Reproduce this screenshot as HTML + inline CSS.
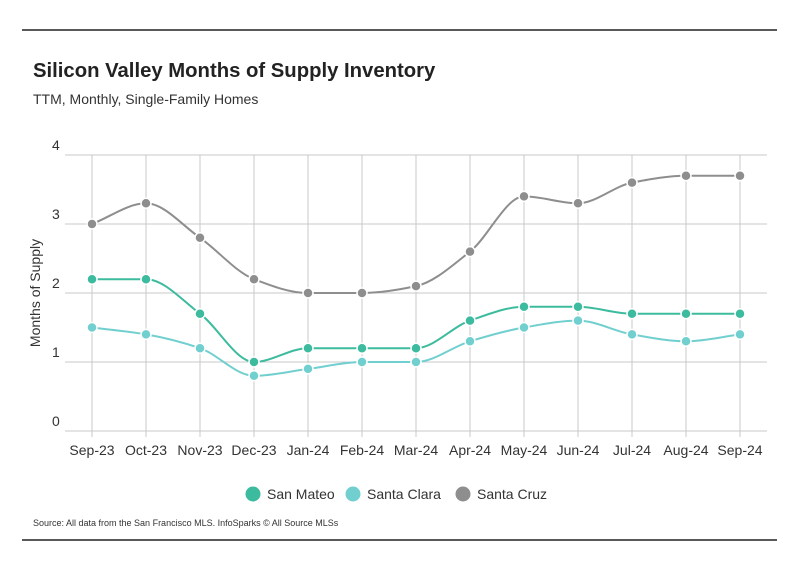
<!DOCTYPE html>
<html><head><meta charset="utf-8">
<style>
body{margin:0;background:#fff;font-family:"Liberation Sans",sans-serif;}
svg{display:block}
</style></head>
<body>
<svg id="chart" width="799" height="575">
<line x1="22" y1="30" x2="777" y2="30" stroke="#222" stroke-width="1.5"/>
<text x="33" y="77" font-size="20.3" font-weight="bold" fill="#222">Silicon Valley Months of Supply Inventory</text>
<text x="33" y="104" font-size="14" fill="#333">TTM, Monthly, Single-Family Homes</text>
<text transform="translate(40,293) rotate(-90)" text-anchor="middle" font-size="14" fill="#333">Months of Supply</text>
<g id="grid"></g>
<g id="series"></g>
<g id="legend"></g>
<text x="33" y="526" font-size="9" fill="#333">Source:  All data from the San Francisco MLS. InfoSparks © All Source MLSs</text>
<line x1="22" y1="540" x2="777" y2="540" stroke="#222" stroke-width="1.5"/>
</svg>
<script>
const categories=["Sep-23","Oct-23","Nov-23","Dec-23","Jan-24","Feb-24","Mar-24","Apr-24","May-24","Jun-24","Jul-24","Aug-24","Sep-24"];
const sanMateo=[2.2,2.2,1.7,1.0,1.2,1.2,1.2,1.6,1.8,1.8,1.7,1.7,1.7];
const santaClara=[1.5,1.4,1.2,0.8,0.9,1.0,1.0,1.3,1.5,1.6,1.4,1.3,1.4];
const santaCruz=[3.0,3.3,2.8,2.2,2.0,2.0,2.1,2.6,3.4,3.3,3.6,3.7,3.7];
const yTicks=[0,1,2,3,4];
const seriesNames=["San Mateo","Santa Clara","Santa Cruz"];
const seriesColors=["#3dbb9e","#72cfcf","#8e8e8e"];

const NS="http://www.w3.org/2000/svg";
const x0=92,x1=740,yBase=431,yTop=155,yMax=4;
const xs=i=>x0+i*(x1-x0)/(categories.length-1);
const ys=v=>yBase-v*(yBase-yTop)/yMax;
function mk(t,a,p){const e=document.createElementNS(NS,t);for(const k in a)e.setAttribute(k,a[k]);p.appendChild(e);return e;}
const grid=document.getElementById('grid');
yTicks.forEach(t=>{
  const l=mk('line',{x1:65,x2:767,y1:ys(t),y2:ys(t),stroke:'#c8c8c8','stroke-width':1},grid);
  
  
  const tx=mk('text',{x:52,y:ys(t)-5,'font-size':14,fill:'#333'},grid);tx.textContent=t;
  
  
});
categories.forEach((c,i)=>{
  const l=mk('line',{x1:xs(i),x2:xs(i),y1:yTop,y2:yBase+6,stroke:'#c8c8c8','stroke-width':1},grid);
  
  
  const tx=mk('text',{x:xs(i),y:455,'font-size':14,fill:'#333','text-anchor':'middle'},grid);tx.textContent=c;
  
  
});
function monotone(pts){
  const n=pts.length,dx=[],m=[],t=[];
  for(let i=0;i<n-1;i++){dx[i]=pts[i+1][0]-pts[i][0];m[i]=(pts[i+1][1]-pts[i][1])/dx[i];}
  t[0]=m[0];t[n-1]=m[n-2];
  for(let i=1;i<n-1;i++){t[i]=(m[i-1]*m[i]<=0)?0:3*(dx[i-1]+dx[i])/((2*dx[i]+dx[i-1])/m[i-1]+(dx[i]+2*dx[i-1])/m[i]);}
  let d=`M${pts[0][0]},${pts[0][1]}`;
  for(let i=0;i<n-1;i++){const h=dx[i]/3;d+=` C${pts[i][0]+h},${pts[i][1]+t[i]*h} ${pts[i+1][0]-h},${pts[i+1][1]-t[i+1]*h} ${pts[i+1][0]},${pts[i+1][1]}`;}
  return d;
}
const sg=document.getElementById('series');
[santaCruz,sanMateo,santaClara].forEach((data)=>{
  const idx=data===sanMateo?0:data===santaClara?1:2;
  const col=seriesColors[idx];
  const pts=data.map((v,i)=>[xs(i),ys(v)]);
  const p=mk('path',{d:monotone(pts),fill:'none',stroke:col,'stroke-width':2},sg);
  
  
  pts.forEach(q=>{
    const c=mk('circle',{cx:q[0],cy:q[1],r:5,fill:col,stroke:'#fff','stroke-width':1.5},sg);
    
    
  });
});
const lg=document.getElementById('legend');
const lx=[253,353,463];
seriesNames.forEach((n,i)=>{
  const c=mk('circle',{cx:lx[i],cy:494,r:7.5,fill:seriesColors[i]},lg);
  
  
  const t=mk('text',{x:lx[i]+14,y:499,'font-size':14,fill:'#333'},lg);t.textContent=n;
  
  
});
</script>
</body></html>
